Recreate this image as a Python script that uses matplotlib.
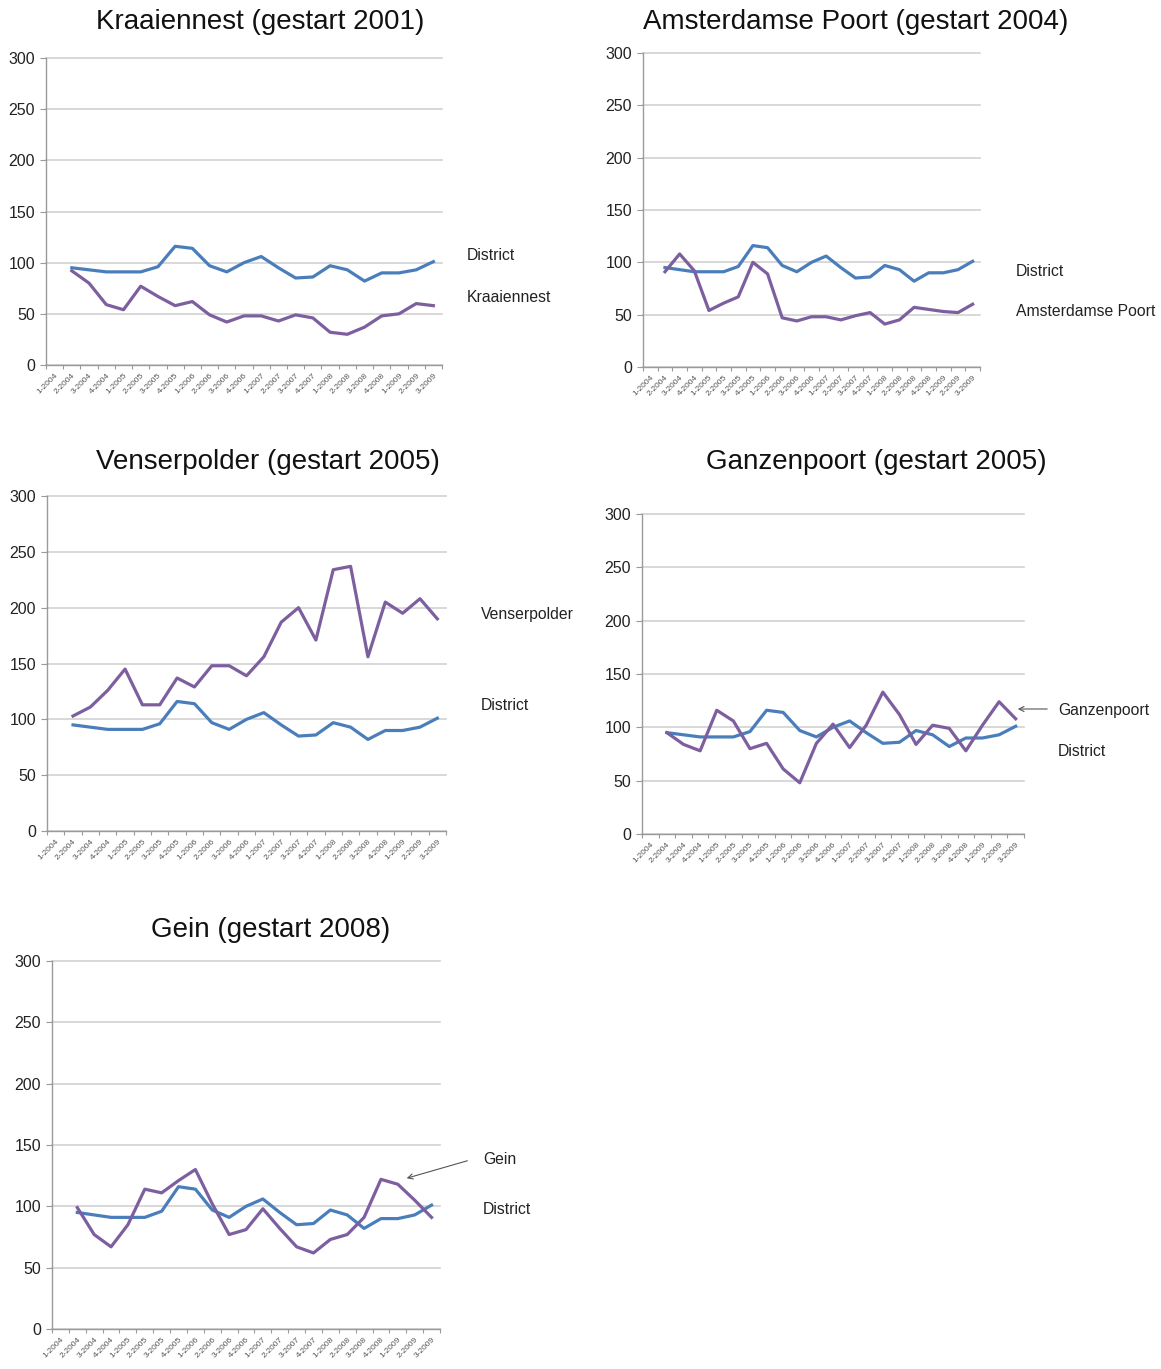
import numpy as np
import matplotlib
matplotlib.use("Agg")
import matplotlib.pyplot as plt

plt.rcParams['font.family'] = ['Liberation Sans', 'DejaVu Sans']

# kwartalen (categorie-as), eerste kwartaal heeft geen waarde
kwartalen = ['1-2004', '2-2004', '3-2004', '4-2004', '1-2005', '2-2005', '3-2005', '4-2005',
             '1-2006', '2-2006', '3-2006', '4-2006', '1-2007', '2-2007', '3-2007', '4-2007',
             '1-2008', '2-2008', '3-2008', '4-2008', '1-2009', '2-2009', '3-2009']

# waarden vanaf 2-2004
district = [95, 93, 91, 91, 91, 96, 116, 114, 97, 91, 100, 106, 95, 85, 86, 97, 93, 82, 90, 90, 93, 101]
kraaiennest = [92, 80, 59, 54, 77, 67, 58, 62, 49, 42, 48, 48, 43, 49, 46, 32, 30, 37, 48, 50, 60, 58]
amsterdamse_poort = [91, 108, 92, 54, 61, 67, 100, 89, 47, 44, 48, 48, 45, 49, 52, 41, 45, 57, 55, 53, 52, 60]
venserpolder = [103, 111, 126, 145, 113, 113, 137, 129, 148, 148, 139, 156, 187, 200, 171, 234, 237, 156, 205, 195, 208, 190]
ganzenpoort = [95, 84, 78, 116, 106, 80, 85, 61, 48, 85, 103, 81, 102, 133, 112, 84, 102, 99, 78, 102, 124, 108]
gein = [99, 77, 67, 85, 114, 111, 121, 130, 102, 77, 81, 98, 82, 67, 62, 73, 77, 91, 122, 118, 105, 91]

yticks = [0, 50, 100, 150, 200, 250, 300]

BLAUW = '#4A7EBB'
PAARS = '#7D5FA0'
GRIJS = '#D2D2D2'
AS = '#9A9A9A'

W, H = 1161, 1369
fig = plt.figure(figsize=(W / 100, H / 100), dpi=100)


def paneel(links, rechts, boven, onder, wijk, titel, tx, ty):
    ax = fig.add_axes([links / W, 1 - onder / H, (rechts - links) / W, (onder - boven) / H])
    x = np.arange(1, len(kwartalen))
    ax.plot(x, district, color=BLAUW, lw=2.3, solid_joinstyle='round')
    ax.plot(x, wijk, color=PAARS, lw=2.3, solid_joinstyle='round')
    ax.set_xlim(-0.5, len(kwartalen) - 0.5)
    ax.set_ylim(0, 300)
    ax.set_yticks(yticks)
    ax.tick_params(axis='y', length=4, color=AS, labelsize=11.5, labelcolor='#222222', pad=4)
    # tick marks op de grenzen, labels in het midden
    ax.set_xticks(np.arange(-0.5, len(kwartalen), 1.0))
    ax.set_xticklabels([])
    ax.tick_params(axis='x', which='major', length=3, color=AS)
    ax.set_xticks(np.arange(len(kwartalen)), minor=True)
    ax.set_xticklabels(kwartalen, minor=True, rotation=45, ha='right', rotation_mode='anchor',
                       fontsize=6, color='#555555')
    ax.tick_params(axis='x', which='minor', length=0, pad=5)
    ax.yaxis.grid(True, color=GRIJS, lw=1.2)
    for g in ax.get_ygridlines():
        g.set_clip_on(False)
    ax.set_axisbelow(True)
    for s in ['top', 'right']:
        ax.spines[s].set_visible(False)
    for s in ['left', 'bottom']:
        ax.spines[s].set_color(AS)
        ax.spines[s].set_linewidth(1)
    fig.text(tx / W, 1 - ty / H, titel, ha='center', va='center', fontsize=20, color='#111111')
    return ax


def label(x, y, tekst):
    fig.text(x / W, 1 - y / H, tekst, ha='left', va='center', fontsize=11.3, color='#222222')


paneel(46, 442, 58, 365, kraaiennest, 'Kraaiennest (gestart 2001)', 260, 22)
label(467, 256, 'District')
label(467, 298, 'Kraaiennest')

paneel(643, 980, 53, 367, amsterdamse_poort, 'Amsterdamse Poort (gestart 2004)', 856, 22)
label(1016, 271, 'District')
label(1016, 311, 'Amsterdamse Poort')

paneel(47, 446, 496, 831, venserpolder, 'Venserpolder (gestart 2005)', 268, 462)
label(481, 615, 'Venserpolder')
label(481, 706, 'District')

paneel(642, 1024, 514, 834, ganzenpoort, 'Ganzenpoort (gestart 2005)', 876, 462)
label(1058, 711, 'Ganzenpoort')
label(1058, 751, 'District')
fig.add_artist(matplotlib.patches.FancyArrowPatch(
    (1050 / W, 1 - 709 / H), (1015 / W, 1 - 709 / H), transform=fig.transFigure,
    arrowstyle='->', mutation_scale=9, color='#555555', lw=0.8))

paneel(52, 440, 961, 1329, gein, 'Gein (gestart 2008)', 271, 930)
label(483, 1159, 'Gein')
label(483, 1210, 'District')
fig.add_artist(matplotlib.patches.FancyArrowPatch(
    (470 / W, 1 - 1160 / H), (404 / W, 1 - 1179 / H), transform=fig.transFigure,
    arrowstyle='->', mutation_scale=9, color='#555555', lw=0.8))

fig.savefig('out.png', dpi=100, facecolor='white')
